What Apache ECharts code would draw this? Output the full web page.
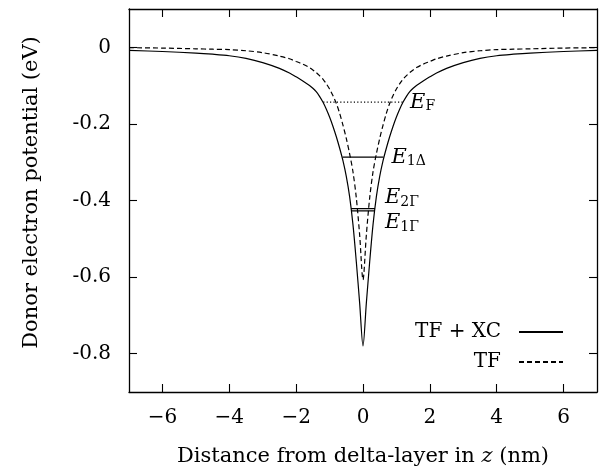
<!DOCTYPE html>
<html><head><meta charset="utf-8">
<script src="https://cdn.jsdelivr.net/npm/echarts@6/dist/echarts.min.js"></script>
<style>html,body{margin:0;padding:0;background:#fff}#c{width:602px;height:476px}</style>
</head><body><div id="c"></div><script>
// Distance from delta-layer z (nm)
const zValues = [-7,-6,-5,-4.5,-4,-3.5,-3,-2.5,-2.2,-2,-1.8,-1.6,-1.5,-1.4,-1.3,-1.2,-1.1,-1,-0.9,-0.8,-0.7,-0.6,-0.5,-0.4,-0.3,-0.2,-0.1,0,
  0.1,0.2,0.3,0.4,0.5,0.6,0.7,0.8,0.9,1,1.1,1.2,1.3,1.4,1.5,1.6,1.8,2,2.2,2.5,3,3.5,4,4.5,5,6,7];
// TF + XC potential (eV)
const tfxcValues = [-0.008,-0.011,-0.015,-0.018,-0.022,-0.029,-0.040,-0.055,-0.067,-0.077,-0.088,-0.100,-0.107,-0.116,-0.128,-0.143,-0.161,-0.182,-0.206,-0.233,-0.263,-0.296,-0.337,-0.390,-0.463,-0.560,-0.668,-0.780,
  -0.668,-0.560,-0.463,-0.390,-0.337,-0.296,-0.263,-0.233,-0.206,-0.182,-0.161,-0.143,-0.128,-0.116,-0.107,-0.100,-0.088,-0.077,-0.067,-0.055,-0.040,-0.029,-0.022,-0.018,-0.015,-0.011,-0.008];
// TF potential (eV)
const tfValues = [-0.001,-0.002,-0.004,-0.005,-0.006,-0.009,-0.014,-0.023,-0.030,-0.037,-0.044,-0.053,-0.059,-0.066,-0.074,-0.083,-0.095,-0.109,-0.126,-0.146,-0.172,-0.203,-0.238,-0.278,-0.325,-0.393,-0.490,-0.607,
  -0.490,-0.393,-0.325,-0.278,-0.238,-0.203,-0.172,-0.146,-0.126,-0.109,-0.095,-0.083,-0.074,-0.066,-0.059,-0.053,-0.044,-0.037,-0.030,-0.023,-0.014,-0.009,-0.006,-0.005,-0.004,-0.002,-0.001];
// Energy levels
const levelSubs = ['F','1Δ','2Γ','1Γ'];
const levelEnergies = [-0.143,-0.287,-0.421,-0.427];
const levelLeftZ = [-1.19,-0.61,-0.36,-0.36];
const levelRightZ = [1.2,0.61,0.36,0.36];
// Ticks
const xTickValues = [-6,-4,-2,0,2,4,6];
const yTickValues = [-0.8,-0.6,-0.4,-0.2,0];
const seriesNames = ['TF + XC','TF'];

const FONT = 'DejaVu Serif';
const FS = 20;
const chart = echarts.init(document.getElementById('c'));
const pairs = vals => zValues.map((z,i)=>[z, vals[i]]);
const levelStyles = [
  {type:[1.2,2.2], off:[0,0], dist:7},
  {type:'solid', off:[0,0], dist:8},
  {type:'solid', off:[0,-11], dist:10},
  {type:'solid', off:[0,12], dist:10}
];
const levelSeries = levelSubs.map((s,i)=>({
  type:'line', symbol:'none', silent:true, z:3,
  data:[[levelLeftZ[i], levelEnergies[i]],[levelRightZ[i], levelEnergies[i]]],
  lineStyle:{color:'#000', width:1.2, type:levelStyles[i].type},
  endLabel:{show:true, distance:levelStyles[i].dist, offset:levelStyles[i].off,
    formatter:'{e|E}{s|'+s+'}',
    rich:{e:{fontFamily:FONT, fontStyle:'italic', fontSize:21, color:'#000'},
          s:{fontFamily:FONT, fontSize:14, color:'#000', padding:[9,0,0,0]}}}
}));
const axisLineStyle = {show:true, onZero:false, lineStyle:{color:'#000', width:1.3}};
const tickStyle = {show:true, inside:true, length:8, lineStyle:{color:'#000', width:1.1}};
chart.setOption({
  animation:false,
  backgroundColor:'#fff',
  grid:{left:129, right:5, top:9, bottom:84},
  legend:{data:seriesNames, orient:'vertical', right:33, top:317, align:'right',
    itemWidth:44, itemHeight:14, itemGap:10, selectedMode:false,
    itemStyle:{opacity:0},
    textStyle:{fontFamily:FONT, fontSize:FS, color:'#000', padding:[0,13,0,0]}},
  xAxis:[
    {type:'value', min:-7, max:7, position:'bottom',
     name:'Distance from delta-layer in {i|z} (nm)', nameLocation:'middle', nameGap:54,
     nameTextStyle:{fontFamily:FONT, fontSize:21, color:'#000',
       rich:{i:{fontFamily:FONT, fontSize:21, fontStyle:'italic', color:'#000'}}},
     axisLine:axisLineStyle, axisTick:Object.assign({customValues:xTickValues}, tickStyle),
     axisLabel:{customValues:xTickValues, margin:16, fontFamily:FONT, fontSize:FS, color:'#000',
       formatter:v=> v<0 ? '\u2212'+Math.abs(v) : String(v)},
     splitLine:{show:false}},
    {type:'value', min:-7, max:7, position:'top',
     axisLine:axisLineStyle, axisTick:Object.assign({customValues:xTickValues}, tickStyle),
     axisLabel:{show:false}, splitLine:{show:false}}
  ],
  yAxis:[
    {type:'value', min:-0.9, max:0.1, position:'left',
     name:'Donor electron potential (eV)', nameLocation:'middle', nameGap:87,
     nameTextStyle:{fontFamily:FONT, fontSize:21, color:'#000', padding:[0,0,0,16]},
     axisLine:axisLineStyle, axisTick:Object.assign({customValues:yTickValues}, tickStyle),
     axisLabel:{customValues:yTickValues, margin:18, fontFamily:FONT, fontSize:FS, color:'#000',
       formatter:v=> v===0 ? '0' : v.toFixed(1)},
     splitLine:{show:false}},
    {type:'value', min:-0.9, max:0.1, position:'right',
     axisLine:axisLineStyle, axisTick:Object.assign({customValues:yTickValues}, tickStyle),
     axisLabel:{show:false}, splitLine:{show:false}}
  ],
  series:[
    {name:seriesNames[0], type:'line', symbol:'none', smooth:0.3, data:pairs(tfxcValues), z:4,
     lineStyle:{color:'#000', width:1.2, type:'solid'}, itemStyle:{color:'#000'}},
    {name:seriesNames[1], type:'line', symbol:'none', smooth:0.3, data:pairs(tfValues), z:4,
     lineStyle:{color:'#000', width:1.2, type:[5,3]}, itemStyle:{color:'#000'}}
  ].concat(levelSeries)
});
</script></body></html>
